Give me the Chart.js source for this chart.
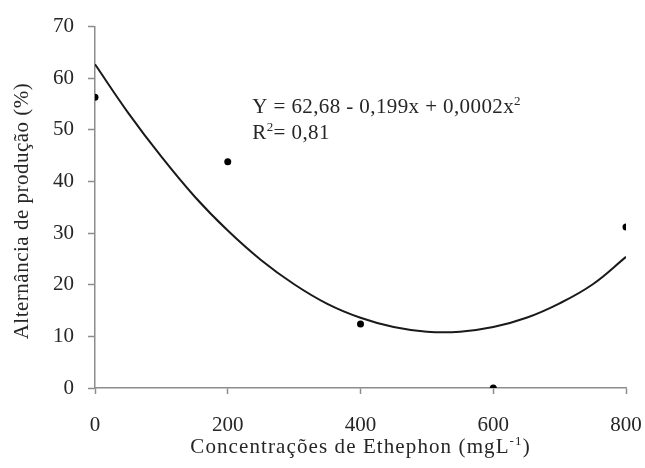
<!DOCTYPE html>
<html>
<head>
<meta charset="utf-8">
<script src="https://cdn.jsdelivr.net/npm/chart.js@4/dist/chart.umd.min.js"></script>
<style>
  html, body { margin: 0; padding: 0; background: #fff; }
  #wrap { width: 645px; height: 468px; }
</style>
</head>
<body>
<div id="wrap"><canvas id="grafica" width="645" height="468"></canvas></div>
<script>
// Pontos observados (concentração de Ethephon x alternância)
var concentracoes = [0, 200, 400, 600, 800];
var alternancia = [56.3, 43.8, 12.4, 0, 31.2];

// Curva de regressão
var curvaX = [0, 50, 100, 150, 200, 250, 300, 350, 400, 450, 500, 550, 600, 650, 700, 750, 800];
var curvaY = [62.7, 53.3, 44.8, 37.1, 30.5, 24.8, 20.1, 16.3, 13.6, 11.8, 10.9, 10.9, 11.8, 13.6, 16.4, 20.1, 25.4];

var ticksX = [0, 200, 400, 600, 800];
var ticksY = [0, 10, 20, 30, 40, 50, 60, 70];

var fonte = '"Liberation Serif", "Times New Roman", serif';
var corTexto = '#262626';
var corEixo = '#8c8c8c';

var pontos = concentracoes.map(function (x, i) { return { x: x, y: alternancia[i] }; });
var curva = curvaX.map(function (x, i) { return { x: x, y: curvaY[i] }; });

// Escreve texto com sobrescrito: partes = [[texto, sobrescrito?], ...]
function escrever(ctx, partes, x, y, tam, espaco) {
  var px = x;
  partes.forEach(function (p) {
    var sup = p[1];
    ctx.font = (sup ? Math.round(tam * 0.62) : tam) + 'px ' + fonte;
    ctx.letterSpacing = espaco + 'px';
    ctx.fillText(p[0], px, sup ? y - tam * 0.38 : y);
    px += ctx.measureText(p[0]).width;
  });
  return px - x;
}

function largura(ctx, partes, tam, espaco) {
  var w = 0;
  partes.forEach(function (p) {
    ctx.font = (p[1] ? Math.round(tam * 0.62) : tam) + 'px ' + fonte;
    ctx.letterSpacing = espaco + 'px';
    w += ctx.measureText(p[0]).width;
  });
  return w;
}

// Desenha a equação e os títulos dos eixos
var textos = {
  id: 'textos',
  afterDraw: function (chart) {
    var ctx = chart.ctx;
    var sx = chart.scales.x, sy = chart.scales.y;
    ctx.save();
    ctx.fillStyle = corTexto;
    ctx.textBaseline = 'alphabetic';
    ctx.textAlign = 'left';

    // equação
    var x0 = sx.getPixelForValue(237);
    escrever(ctx, [['Y = 62,68 - 0,199x + 0,0002x', false], ['2', true]], x0, sy.getPixelForValue(53.2), 21, 0.4);
    escrever(ctx, [['R', false], ['2', true], ['= 0,81', false]], x0, sy.getPixelForValue(48.2), 21, 0.4);

    // título do eixo x
    var partesX = [['Concentrações de Ethephon (mgL', false], ['-1', true], [')', false]];
    var cx = (chart.chartArea.left + chart.chartArea.right) / 2;
    var w = largura(ctx, partesX, 21, 1.1);
    escrever(ctx, partesX, cx - w / 2, 453, 21, 1.1);

    // título do eixo y
    ctx.translate(28, 211);
    ctx.rotate(-Math.PI / 2);
    var partesY = [['Alternância de produção (%)', false]];
    var wy = largura(ctx, partesY, 21, 0.5);
    escrever(ctx, partesY, -wy / 2, 0, 21, 0.5);
    ctx.restore();
  }
};

var ctx = document.getElementById('grafica').getContext('2d');
var grafico = new Chart(ctx, {
  type: 'scatter',
  data: {
    datasets: [{
      label: 'Curva',
      data: curva,
      showLine: true,
      borderColor: '#1a1a1a',
      borderWidth: 2,
      pointRadius: 0,
      tension: 0.4,
      fill: false
    }, {
      label: 'Observado',
      data: pontos,
      backgroundColor: '#000',
      borderColor: '#000',
      pointRadius: 3.5,
      borderWidth: 0
    }]
  },
  options: {
    responsive: false,
    animation: false,
    layout: { padding: { left: 0, right: 0, top: 22, bottom: 0 } },
    plugins: {
      legend: { display: false },
      tooltip: { enabled: false }
    },
    scales: {
      x: {
        type: 'linear',
        min: 0,
        max: 800,
        afterBuildTicks: function (s) { s.ticks = ticksX.map(function (v) { return { value: v }; }); },
        afterFit: function (s) { s.height = 80; s.paddingLeft = 0; s.paddingRight = 19; },
        grid: { display: true, drawOnChartArea: false, drawTicks: true, tickLength: 6, tickColor: corEixo, tickWidth: 1.5 },
        border: { color: corEixo, width: 1.5 },
        ticks: { color: corTexto, font: { family: fonte, size: 21 }, padding: 19, maxRotation: 0 }
      },
      y: {
        type: 'linear',
        min: 0,
        max: 70,
        afterBuildTicks: function (s) { s.ticks = ticksY.map(function (v) { return { value: v }; }); },
        afterFit: function (s) { s.width = 95; },
        grid: { display: true, drawOnChartArea: false, drawTicks: true, tickLength: 7, tickColor: corEixo, tickWidth: 1.5 },
        border: { color: corEixo, width: 1.5 },
        ticks: { color: corTexto, font: { family: fonte, size: 21 }, padding: 14 }
      }
    }
  },
  plugins: [textos]
});
</script>
</body>
</html>
